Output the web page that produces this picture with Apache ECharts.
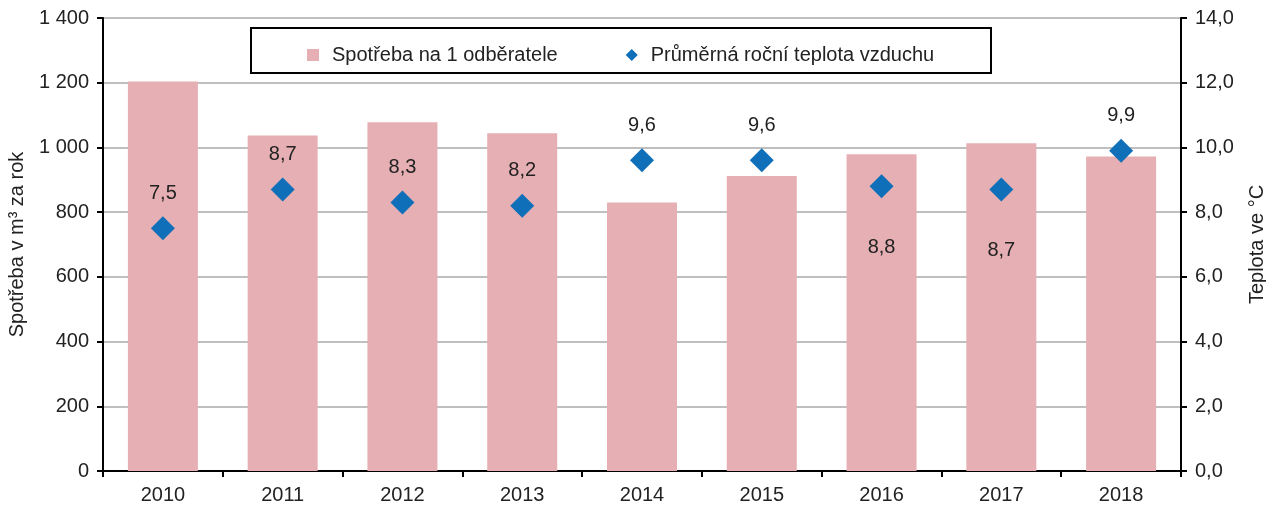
<!DOCTYPE html>
<html>
<head>
<meta charset="utf-8">
<script src="https://cdn.jsdelivr.net/npm/echarts@6/dist/echarts.min.js"></script>
<style>
  html, body { margin: 0; padding: 0; background: #fff; }
  #chart { width: 1266px; height: 506px; }
</style>
</head>
<body>
<div id="chart"></div>
<script>
  // data
  var years = ['2010', '2011', '2012', '2013', '2014', '2015', '2016', '2017', '2018']
  var spotreba = [1204, 1037, 1078, 1044, 830, 912, 979, 1013, 972]
  var teplota = [7.5, 8.7, 8.3, 8.2, 9.6, 9.6, 8.8, 8.7, 9.9]
  var labelPos = ['top', 'top', 'top', 'top', 'top', 'top', 'bottom', 'bottom', 'top']

  var font = 'Liberation Sans, Arial, sans-serif'
  var txt = '#222'
  var fs = 20

  var chart = echarts.init(document.getElementById('chart'))

  var tempData = teplota.map(function (v, i) {
    var below = labelPos[i] === 'bottom'
    return {
      value: v,
      label: { position: labelPos[i], distance: below ? 39 : 13 }
    }
  })

  chart.setOption({
    animation: false,
    textStyle: { fontFamily: font },
    grid: {
      left: 103, right: 85, top: 18, bottom: 35,
      outerBoundsMode: 'none', containLabel: false,
      show: true, borderColor: '#000', borderWidth: 2
    },
    graphic: [{
      type: 'rect',
      shape: { x: 251, y: 28, width: 740, height: 45 },
      style: { fill: '#fff', stroke: '#000', lineWidth: 2 },
      z: 100
    }],
    legend: {
      left: 302, top: 40, z: 101,
      itemWidth: 12, itemHeight: 12, itemGap: 68,
      textStyle: { fontSize: fs, color: txt, fontFamily: font, padding: [0, 0, 0, 8] },
      data: [
        { name: 'Spotřeba na 1 odběratele', icon: 'rect' },
        { name: 'Průměrná roční teplota vzduchu', icon: 'diamond' }
      ]
    },
    xAxis: {
      type: 'category',
      data: years,
      axisLine: { lineStyle: { color: '#000', width: 2 } },
      axisTick: { show: true, length: 6, lineStyle: { color: '#000', width: 2 } },
      axisLabel: { fontSize: fs, color: txt, margin: 14 }
    },
    yAxis: [{
      type: 'value',
      min: 0, max: 1400, interval: 200,
      name: 'Spotřeba v m³ za rok',
      nameLocation: 'middle', nameGap: 76,
      nameTextStyle: { fontSize: fs, color: txt },
      axisLine: { show: true, lineStyle: { color: '#000', width: 2 } },
      axisTick: { show: true, length: 6, lineStyle: { color: '#000', width: 2 } },
      axisLabel: {
        fontSize: fs, color: txt, margin: 14,
        formatter: function (v) { return String(v).replace(/\B(?=(\d{3})+(?!\d))/g, ' ') }
      },
      splitLine: { lineStyle: { color: '#bfbfbf', width: 2 } }
    }, {
      type: 'value',
      min: 0, max: 14, interval: 2,
      name: 'Teplota ve °C',
      nameLocation: 'middle', nameGap: 66, nameRotate: 90,
      nameTextStyle: { fontSize: fs, color: txt },
      axisLine: { show: true, lineStyle: { color: '#000', width: 2 } },
      axisTick: { show: true, length: 6, lineStyle: { color: '#000', width: 2 } },
      axisLabel: {
        fontSize: fs, color: txt, margin: 14,
        formatter: function (v) { return v.toFixed(1).replace('.', ',') }
      },
      splitLine: { show: false }
    }],
    series: [{
      name: 'Spotřeba na 1 odběratele',
      type: 'bar',
      data: spotreba,
      barWidth: 70,
      itemStyle: { color: '#e6afb3' }
    }, {
      name: 'Průměrná roční teplota vzduchu',
      type: 'scatter',
      yAxisIndex: 1,
      symbol: 'diamond',
      symbolSize: 24,
      data: tempData,
      itemStyle: { color: '#0f6fb8', opacity: 1 },
      label: {
        show: true, fontSize: fs, color: txt,
        formatter: function (p) { return p.value.toFixed(1).replace('.', ',') }
      }
    }]
  })
</script>
</body>
</html>
